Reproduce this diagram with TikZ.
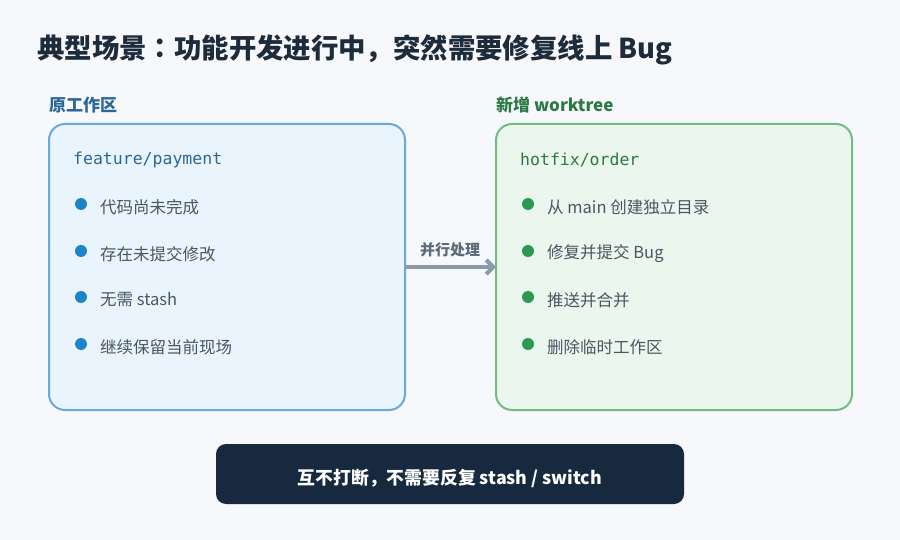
\documentclass[tikz,border=0pt]{standalone}
\usepackage{fontspec}
\setmainfont{Noto Sans CJK SC}
\newfontfamily\tcfont{Noto Sans CJK TC}
\newfontfamily\monofont{DejaVu Sans Mono}
\usetikzlibrary{arrows.meta}
\definecolor{bg}{HTML}{F6F8FC}
\definecolor{titlec}{HTML}{1E2B3B}
\definecolor{bluefill}{HTML}{EAF4FC}
\definecolor{blueline}{HTML}{6AA8D8}
\definecolor{bluetext}{HTML}{2C6796}
\definecolor{bluedot}{HTML}{1E84C8}
\definecolor{greenfill}{HTML}{EBF6EE}
\definecolor{greenline}{HTML}{72BB83}
\definecolor{greentext}{HTML}{2B7A43}
\definecolor{greendot}{HTML}{2A9A52}
\definecolor{itemc}{HTML}{4B5664}
\definecolor{arrowc}{HTML}{8A9CAB}
\definecolor{arrowtext}{HTML}{5B6B79}
\definecolor{navy}{HTML}{16293F}
\tikzset{
  panel/.style={rounded corners=16pt, line width=2pt, inner sep=0pt},
  paneltitle/.style={anchor=west, inner sep=0pt, font=\fontsize{17}{20}\selectfont\bfseries},
  branch/.style={anchor=west, inner sep=0pt, font=\monofont\fontsize{16.5}{19}\selectfont},
  item/.style={anchor=west, inner sep=0pt, text=itemc, font=\fontsize{16.5}{19}\selectfont},
  bdot/.style={circle, inner sep=0pt, minimum size=12pt},
}
\begin{document}
\begin{tikzpicture}[x=1pt,y=-1pt]
\fill[bg] (0,0) rectangle (900,540);
\useasboundingbox (0,0) rectangle (900,540);
\node[anchor=west, inner sep=0pt, text=titlec, font=\fontsize{27.4}{31}\selectfont\bfseries] (title) at (37,50) {典型场景{\tcfont ：}功能开发进行中，突然需要修复线上 Bug};

\node[paneltitle, text=bluetext] (ltitle) at (49,105) {原工作区};
\node[paneltitle, text=greentext] (rtitle) at (496,105) {新增 worktree};

\draw[panel, fill=bluefill, draw=blueline] (49,124) rectangle (405,410);
\coordinate (lbox) at (405,267);
\draw[panel, fill=greenfill, draw=greenline] (496,124) rectangle (852,410);
\coordinate (rbox) at (496,267);

\node[branch, text=bluetext] (lbranch) at (73,160) {feature/payment};
\node[branch, text=greentext] (rbranch) at (520,160) {hotfix/order};

\foreach \y/\t [count=\i] in {207/代码尚未完成, 254/存在未提交修改, 300/无需 stash, 347/继续保留当前现场}{
  \node[bdot, fill=bluedot] (ld\i) at (81,\y-3) {};
  \node[item] (lt\i) at (100,\y) {\t};
}
\foreach \y/\t [count=\i] in {207/从 main 创建独立目录, 254/修复并提交 Bug, 300/推送并合并, 347/删除临时工作区}{
  \node[bdot, fill=greendot] (rd\i) at (528,\y-3) {};
  \node[item] (rt\i) at (547,\y) {\t};
}

\draw[arrowc, line width=4pt, -{Straight Barb[length=7pt, width=14pt, line width=4pt]}] (lbox) -- (rbox);
\node[text=arrowtext, inner sep=0pt, font=\fontsize{15}{18}\selectfont\bfseries] (arrl) at (450,250) {并行处理};

\node[fill=navy, rounded corners=10pt, minimum width=468pt, minimum height=60pt, inner sep=0pt] (summary) at (450,474) {};
\node[text=white, inner sep=0pt, font=\fontsize{17.8}{21}\selectfont\bfseries] (summarytext) at (450,478) {互不打断，不需要反复 stash / switch};
\end{tikzpicture}
\end{document}
